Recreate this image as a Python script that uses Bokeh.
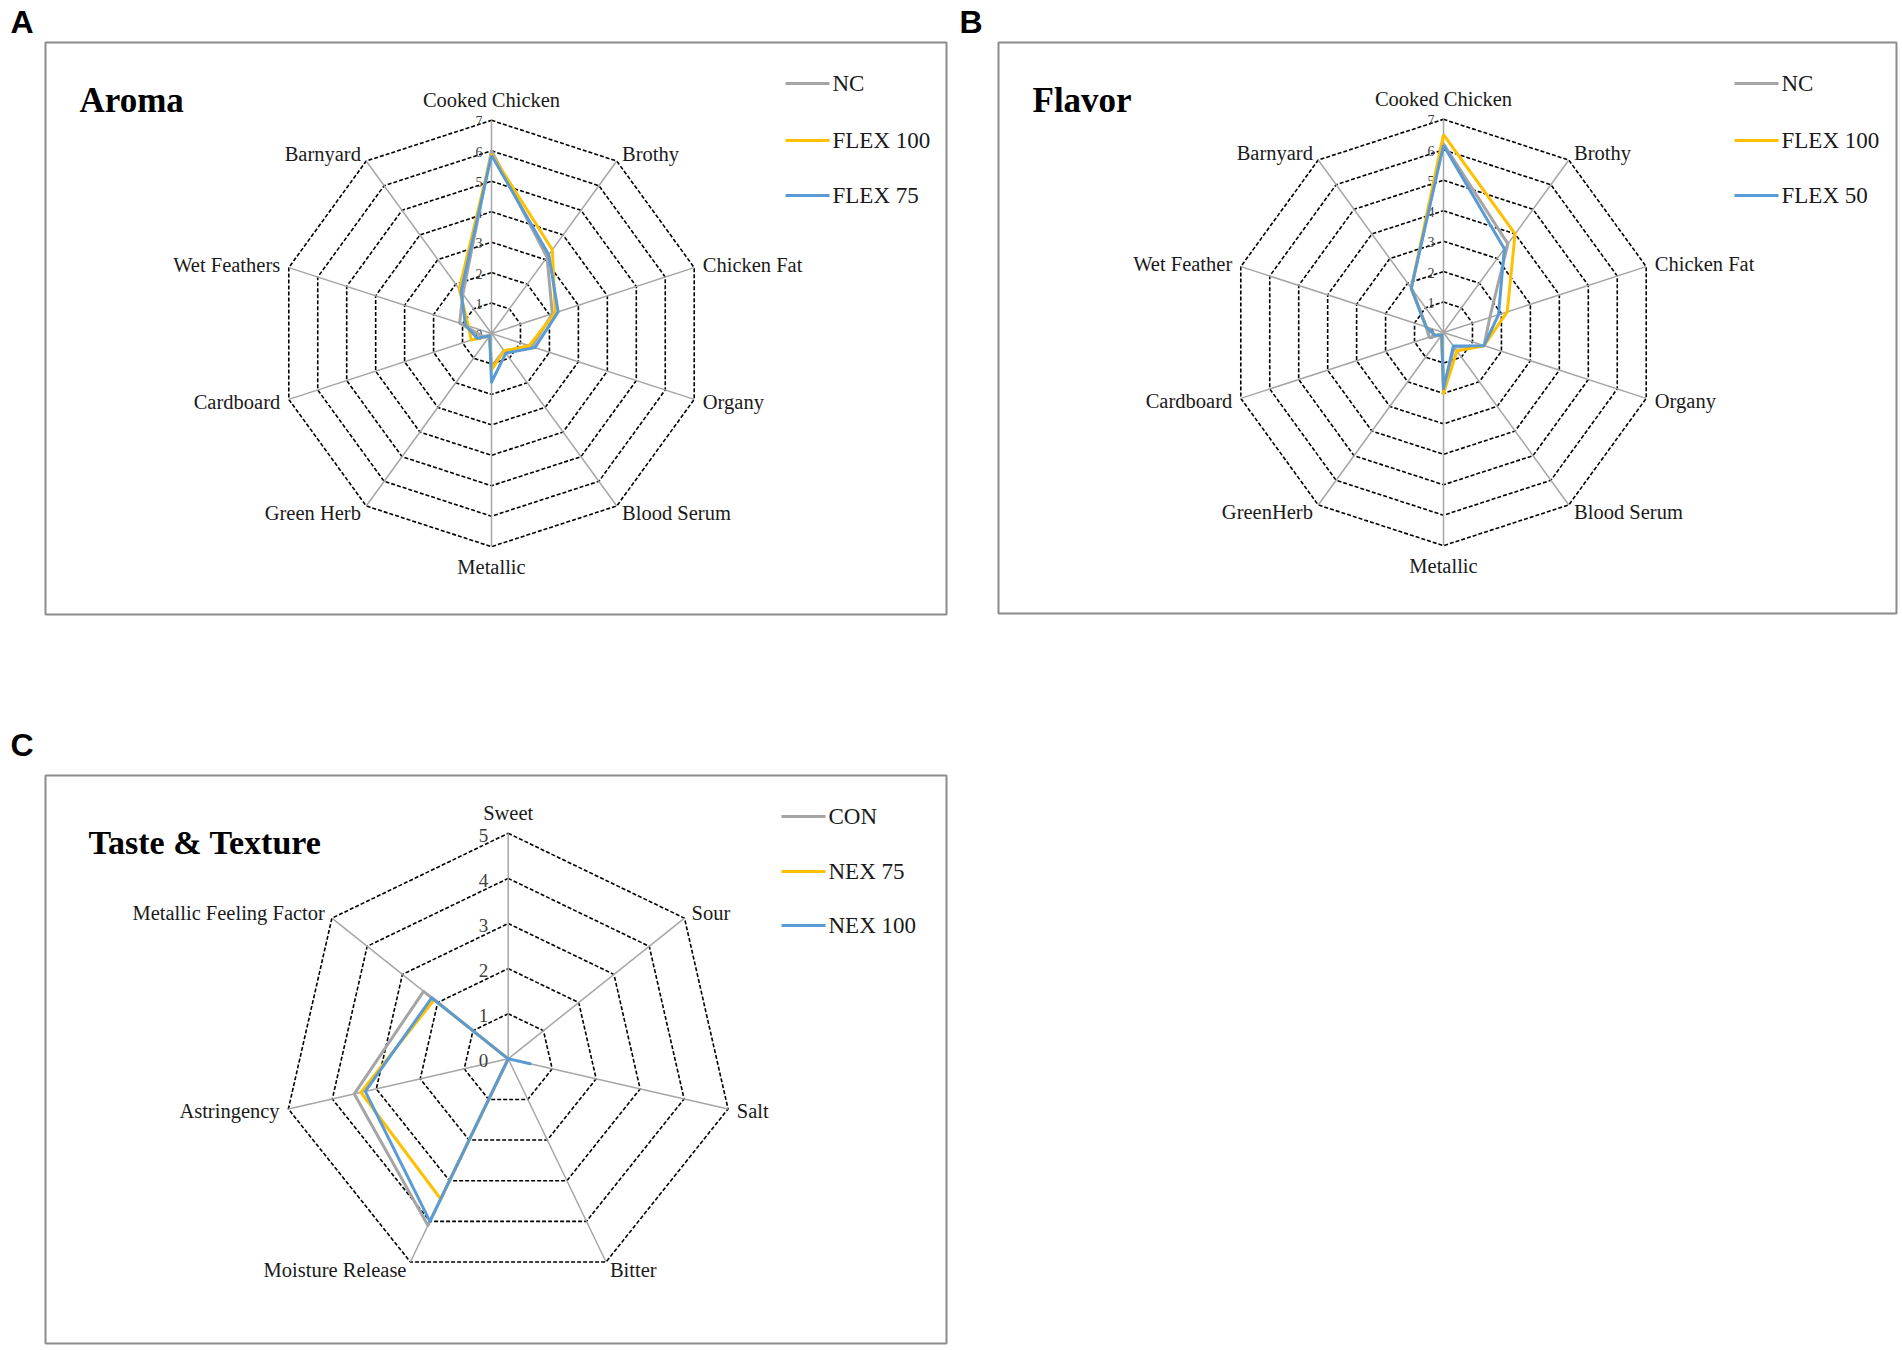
import math
from bokeh.plotting import figure
from bokeh.models import Range1d, ColumnDataSource
from bokeh.core.properties import value
from bokeh.embed import file_html
from bokeh.resources import INLINE

# ---------------- data ----------------
aroma_categories = ["Cooked Chicken", "Brothy", "Chicken Fat", "Organy", "Blood Serum",
                    "Metallic", "Green Herb", "Cardboard", "Wet Feathers", "Barnyard"]
aroma_series_names = ["NC", "FLEX 100", "FLEX 75"]
aroma_nc = [6.0, 3.1, 2.1, 1.4, 0.7, 1.1, 0.1, 0.3, 1.1, 1.6]
aroma_flex100 = [5.9, 3.4, 2.2, 1.3, 0.7, 1.2, 0.1, 0.7, 0.8, 1.8]
aroma_flex75 = [5.85, 3.2, 2.3, 1.5, 0.8, 1.6, 0.1, 0.5, 0.9, 1.7]

flavor_categories = ["Cooked Chicken", "Brothy", "Chicken Fat", "Organy", "Blood Serum",
                     "Metallic", "GreenHerb", "Cardboard", "Wet Feather", "Barnyard"]
flavor_series_names = ["NC", "FLEX 100", "FLEX 50"]
flavor_nc = [6.2, 3.6, 1.6, 1.4, 0.6, 1.8, 0.1, 0.5, 0.6, 1.8]
flavor_flex100 = [6.5, 4.0, 2.2, 1.4, 0.75, 2.0, 0.1, 0.3, 0.6, 1.8]
flavor_flex50 = [6.15, 3.4, 1.9, 1.4, 0.55, 1.85, 0.1, 0.3, 0.6, 1.8]

taste_categories = ["Sweet", "Sour", "Salt", "Bitter", "Moisture Release",
                    "Astringency", "Metallic Feeling Factor"]
taste_series_names = ["CON", "NEX 75", "NEX 100"]
taste_con = [0.0, 0.0, 0.0, 0.0, 4.1, 3.5, 2.4]
taste_nex75 = [0.0, 0.0, 0.0, 0.0, 3.45, 3.35, 2.1]
taste_nex100 = [0.0, 0.0, 0.5, 0.0, 4.0, 3.25, 2.17]

aroma_ticks = ["0", "1", "2", "3", "4", "5", "6", "7"]
flavor_ticks = ["0", "1", "2", "3", "4", "5", "6", "7"]
taste_ticks = ["0", "1", "2", "3", "4", "5"]

# ---------------- styles ----------------
COLORS = ["#A5A5A5", "#FFC000", "#5B9BD5"]
SERIF = value("Liberation Serif")
SANS = value("Liberation Sans")

W, H = 1900, 1348
p = figure(width=W, height=H, x_range=Range1d(0, W), y_range=Range1d(H, 0),
           output_backend="svg", toolbar_location=None, min_border=0,
           x_axis_location=None, y_axis_location=None)
p.outline_line_color = None
p.background_fill_color = "white"
p.border_fill_color = "white"
p.xgrid.grid_line_color = None
p.ygrid.grid_line_color = None


def panel(box, center, unit, cats, ticks, series, names, title, title_xy, title_size,
          leg_x, leg_ys, tick_off, tick_size, tick_dy):
    x0, y0, x1, y1 = box
    p.quad(left=x0, right=x1, top=y0, bottom=y1, fill_color=None,
           line_color="#8c8c8c", line_width=2)
    cx, cy = center
    n = len(cats)
    nmax = len(ticks) - 1
    ang = [2 * math.pi * i / n for i in range(n)]
    sx = [math.sin(a) for a in ang]
    sy = [-math.cos(a) for a in ang]

    # rings
    rxs, rys = [], []
    for k in range(1, nmax + 1):
        rxs.append([cx + k * unit * s for s in sx] + [cx + k * unit * sx[0]])
        rys.append([cy + k * unit * s for s in sy] + [cy + k * unit * sy[0]])
    p.multi_line(rxs, rys, line_color="black", line_width=1.6, line_dash="4 2")
    # spokes
    R = nmax * unit
    p.multi_line([[cx, cx + R * s] for s in sx], [[cy, cy + R * s] for s in sy],
                 line_color="#a6a6a6", line_width=1.5)

    # tick labels
    p.text(x=[cx - tick_off] * (nmax + 1), y=[cy - k * unit + tick_dy for k in range(nmax + 1)],
           text=ticks, text_font=SERIF, text_font_size=tick_size, text_color="#404040",
           text_align="right", text_baseline="middle")

    # category labels
    lx, ly, la, lb = [], [], [], []
    pad = 9
    for s_x, s_y, c in zip(sx, sy, cats):
        lx.append(cx + (R + pad) * s_x)
        ly.append(cy + (R + pad) * s_y)
        if s_x > 0.1:
            la.append("left")
        elif s_x < -0.1:
            la.append("right")
        else:
            la.append("center")
        if s_y < -0.95:
            lb.append("bottom")
        elif s_y > 0.95:
            lb.append("top")
        else:
            lb.append("middle")
    src = ColumnDataSource(dict(x=lx, y=ly, t=cats, a=la, b=lb))
    p.text(x="x", y="y", text="t", text_align="a", text_baseline="b", source=src,
           text_font=SERIF, text_font_size="20.5px", text_color="#1a1a1a")

    # series
    for vals, col in zip(series, COLORS):
        xs = [cx + v * unit * s for v, s in zip(vals, sx)]
        ys = [cy + v * unit * s for v, s in zip(vals, sy)]
        p.line(xs + [xs[0]], ys + [ys[0]], line_color=col, line_width=3, line_join="round")

    # title
    p.text(x=[title_xy[0]], y=[title_xy[1]], text=[title], text_font=SERIF,
           text_font_size=title_size, text_font_style="bold", text_color="black",
           text_align="left", text_baseline="middle")

    # legend
    for nm, col, yy in zip(names, COLORS, leg_ys):
        p.line([leg_x, leg_x + 44], [yy, yy], line_color=col, line_width=3)
        p.text(x=[leg_x + 47], y=[yy], text=[nm], text_font=SERIF, text_font_size="23px",
               text_color="#1a1a1a", text_align="left", text_baseline="middle")


panel((45, 42, 946, 614), (491, 333), 30.45, aroma_categories, aroma_ticks,
      [aroma_nc, aroma_flex100, aroma_flex75], aroma_series_names,
      "Aroma", (79, 100), "35px", 785, [83, 140, 195], 9, "14px", 1)

panel((998, 42, 1896, 613), (1443, 332), 30.45, flavor_categories, flavor_ticks,
      [flavor_nc, flavor_flex100, flavor_flex50], flavor_series_names,
      "Flavor", (1032, 100), "35px", 1734, [83, 140, 195], 9, "14px", 1)

panel((45, 775, 946, 1343), (507.7, 1058.3), 45.1, taste_categories, taste_ticks,
      [taste_con, taste_nex75, taste_nex100], taste_series_names,
      "Taste & Texture", (88, 842), "34px", 781, [816, 871, 925], 20, "19px", 2)

# panel letters
p.text(x=[10, 959, 10], y=[21, 21, 744], text=["A", "B", "C"], text_font=SANS,
       text_font_size="32px", text_font_style="bold", text_color="black",
       text_align="left", text_baseline="middle")

open("out.html", "w").write(file_html(p, INLINE))
